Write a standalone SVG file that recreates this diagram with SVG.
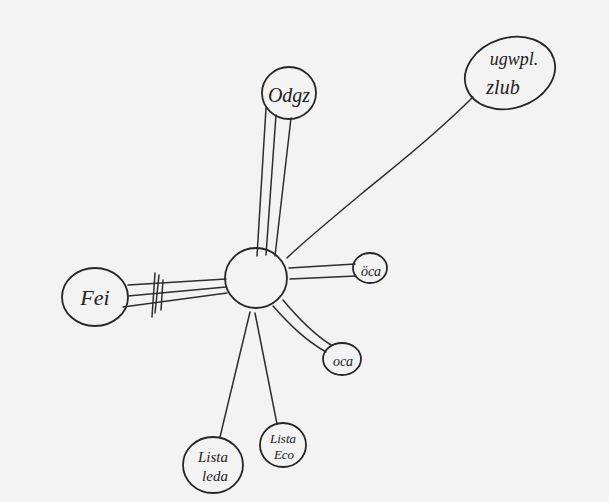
<svg xmlns="http://www.w3.org/2000/svg" width="609" height="502" viewBox="0 0 609 502">
<style>
.n{fill:none;stroke:#262626;stroke-width:1.8}
.c{fill:none;stroke:#2e2e2e;stroke-width:1.5;stroke-linecap:round}
.t{font-family:"Liberation Serif","DejaVu Serif",serif;font-style:italic;fill:#222;text-anchor:middle}
</style>
<rect width="609" height="502" fill="#f3f3f3"/>
<g id="connectors">
  <path class="c" d="M266 108 L257 256"/>
  <path class="c" d="M276 115 L266 255"/>
  <path class="c" d="M291 118 L275 256"/>
  <path class="c" d="M473 97 C430 140 390 170 360 195 C330 220 300 245 287 258"/>
  <path class="c" d="M128 285 L226 279"/>
  <path class="c" d="M128 296 L226 287"/>
  <path class="c" d="M123 307 L227 293"/>
  <path class="c" d="M155 273 L152 317"/>
  <path class="c" d="M159 275 L155 313"/>
  <path class="c" d="M163 280 L161 310"/>
  <path class="c" d="M289 268 L355 264"/>
  <path class="c" d="M290 279 L356 276"/>
  <path class="c" d="M273 306 C290 325 305 340 326 352"/>
  <path class="c" d="M283 300 C298 318 312 333 331 345"/>
  <path class="c" d="M250 312 L220 437"/>
  <path class="c" d="M255 313 L277 424"/>
</g>
<g id="center">
  <ellipse class="n" cx="256" cy="278" rx="31" ry="30"/>
</g>
<g id="node-top">
  <ellipse class="n" cx="289" cy="93" rx="27" ry="26"/>
  <text class="t" x="289" y="102" font-size="20">Odgz</text>
</g>
<g id="node-topright">
  <ellipse class="n" cx="510" cy="73" rx="46" ry="35" transform="rotate(-18 510 73)"/>
  <text class="t" x="514" y="65" font-size="18">ugwpl.</text>
  <text class="t" x="503" y="94" font-size="20">zlub</text>
</g>
<g id="node-left">
  <ellipse class="n" cx="95" cy="297" rx="33" ry="29"/>
  <text class="t" x="95" y="305" font-size="22">Fei</text>
</g>
<g id="node-oca1">
  <ellipse class="n" cx="370" cy="268" rx="17" ry="15"/>
  <text class="t" x="371" y="276" font-size="14">öca</text>
</g>
<g id="node-oca2">
  <ellipse class="n" cx="342" cy="359" rx="19" ry="16"/>
  <text class="t" x="343" y="366" font-size="14">oca</text>
</g>
<g id="node-lista1">
  <ellipse class="n" cx="213" cy="465" rx="30" ry="28"/>
  <text class="t" x="213" y="462" font-size="15">Lista</text>
  <text class="t" x="215" y="481" font-size="15">leda</text>
</g>
<g id="node-lista2">
  <ellipse class="n" cx="283" cy="445" rx="23" ry="22"/>
  <text class="t" x="283" y="443" font-size="13">Lista</text>
  <text class="t" x="284" y="459" font-size="13">Eco</text>
</g>
</svg>
